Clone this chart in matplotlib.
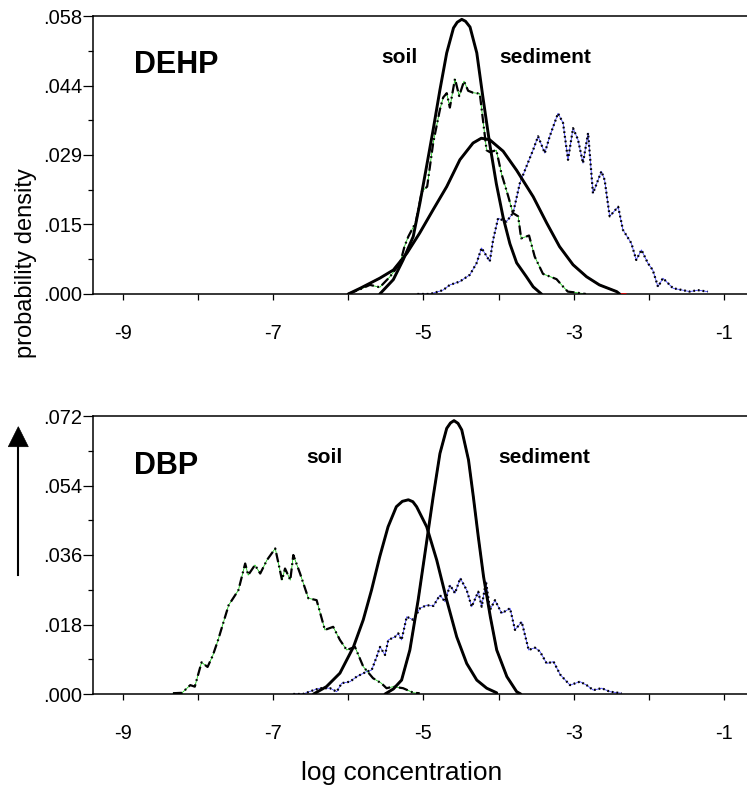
import matplotlib
matplotlib.use("Agg")
import matplotlib.pyplot as plt
from matplotlib.patches import Polygon
from matplotlib.lines import Line2D

plt.rcParams['font.family'] = ['Liberation Sans', 'DejaVu Sans']

# ---------------- data ----------------
# DEHP panel
dehp_soil_fit_x = [-5.58, -5.40, -5.27, -5.135, -5.046, -4.958, -4.87, -4.78, -4.69, -4.60, -4.55, -4.49,
                   -4.44, -4.38, -4.29, -4.21, -4.12, -4.03, -3.94, -3.85, -3.76, -3.63, -3.54, -3.43]
dehp_soil_fit_y = [0.0, 0.0030, 0.0071, 0.0120, 0.0190, 0.0266, 0.0343, 0.0426, 0.0503, 0.0555, 0.0567, 0.0573,
                   0.0569, 0.0557, 0.0503, 0.0412, 0.0315, 0.0230, 0.0160, 0.0105, 0.0065, 0.0036, 0.0015, 0.0]

dehp_sed_fit_x = [-6.0, -5.84, -5.58, -5.40, -5.22, -5.05, -4.87, -4.69, -4.515, -4.34, -4.23, -4.12,
                  -3.94, -3.76, -3.54, -3.36, -3.19, -3.01, -2.83, -2.66, -2.43, -2.39]
dehp_sed_fit_y = [0.0, 0.0012, 0.0033, 0.0050, 0.0085, 0.0127, 0.0176, 0.0224, 0.0280, 0.0315, 0.0325, 0.0322,
                  0.0298, 0.0258, 0.0203, 0.0148, 0.0099, 0.0061, 0.0036, 0.0019, 0.0005, 0.0]
dehp_sed_fit_tail_x = [-2.39, -2.31]
dehp_sed_fit_tail_y = [0.0, 0.0]

dehp_soil_sim_x = [-6.0, -5.84, -5.71, -5.58, -5.445, -5.31, -5.25, -5.20, -5.10, -5.02, -4.95, -4.87,
                   -4.78, -4.737, -4.69, -4.648, -4.58, -4.524, -4.46, -4.405, -4.34, -4.25, -4.16, -4.117,
                   -4.03, -3.96, -3.874, -3.81, -3.74, -3.70, -3.595, -3.52, -3.41, -3.23, -3.14, -3.08,
                   -2.97, -2.84]
dehp_soil_sim_y = [0.0, 0.0010, 0.0019, 0.0014, 0.0036, 0.0064, 0.0100, 0.0120, 0.0150, 0.0214, 0.0224, 0.0315,
                   0.0385, 0.0410, 0.0419, 0.0389, 0.0449, 0.0413, 0.0444, 0.0424, 0.0420, 0.0418, 0.0300, 0.0296,
                   0.0300, 0.0250, 0.0205, 0.0169, 0.0162, 0.0116, 0.0122, 0.0078, 0.0042, 0.0031, 0.0015, 0.0005,
                   0.0003, 0.0]

dehp_sed_sim_x = [-5.08, -4.91, -4.74, -4.648, -4.515, -4.383, -4.294, -4.227, -4.183, -4.117, -4.073,
                  -4.007, -3.895, -3.807, -3.718, -3.63, -3.54, -3.475, -3.386, -3.32, -3.21, -3.143,
                  -3.077, -3.01, -2.944, -2.878, -2.81, -2.745, -2.633, -2.59, -2.523, -2.41, -2.347,
                  -2.235, -2.17, -2.10, -2.014, -1.95, -1.88, -1.815, -1.68, -1.55, -1.46, -1.35, -1.22]
dehp_sed_sim_y = [0.0, 0.0, 0.0008, 0.0019, 0.0026, 0.0040, 0.0064, 0.0096, 0.0085, 0.0068, 0.0113,
                  0.0158, 0.0151, 0.0169, 0.0231, 0.0266, 0.0301, 0.0329, 0.0294, 0.0329, 0.0377, 0.0357,
                  0.0280, 0.0346, 0.0322, 0.0273, 0.0336, 0.0210, 0.0256, 0.0238, 0.0162, 0.0182, 0.0134,
                  0.0106, 0.0071, 0.0092, 0.0064, 0.0050, 0.0015, 0.0033, 0.0012, 0.0008, 0.0005, 0.0008, 0.0005]

# DBP panel
dbp_soil_sim_x = [-8.33, -8.21, -8.10, -8.04, -7.95, -7.87, -7.80, -7.73, -7.59, -7.46, -7.37, -7.33, -7.24,
                  -7.17, -7.08, -6.97, -6.88, -6.84, -6.77, -6.73, -6.64, -6.53, -6.42, -6.31, -6.20,
                  -6.11, -6.02, -5.91, -5.80, -5.67, -5.56, -5.49, -5.40, -5.27, -5.13, -5.05]
dbp_soil_sim_y = [0.0002, 0.0003, 0.0023, 0.0019, 0.0082, 0.0070, 0.0100, 0.0140, 0.0230, 0.0269, 0.0338, 0.0308,
                  0.0334, 0.0312, 0.0347, 0.0377, 0.0295, 0.0325, 0.0295, 0.0360, 0.0312, 0.0248, 0.0243,
                  0.0166, 0.0174, 0.0140, 0.0114, 0.0122, 0.0071, 0.0041, 0.0028, 0.0015, 0.0019, 0.0015,
                  0.0003, 0.0002]

dbp_soil_fit_x = [-6.46, -6.29, -6.11, -5.93, -5.80, -5.69, -5.58, -5.47, -5.36, -5.28, -5.20, -5.14, -5.09,
                  -4.956, -4.823, -4.69, -4.557, -4.424, -4.29, -4.158, -4.025]
dbp_soil_fit_y = [0.0, 0.0019, 0.0054, 0.0122, 0.0192, 0.0269, 0.0356, 0.0433, 0.0485, 0.0499, 0.0503, 0.0498,
                  0.0485, 0.0433, 0.0347, 0.0243, 0.0148, 0.0079, 0.0036, 0.0015, 0.0003]

dbp_sed_fit_x = [-5.51, -5.40, -5.29, -5.18, -5.07, -4.96, -4.87, -4.78, -4.69, -4.64, -4.593, -4.54, -4.49,
                 -4.40, -4.336, -4.27, -4.20, -4.11, -4.025, -3.89, -3.76, -3.706]
dbp_sed_fit_y = [0.0, 0.0013, 0.0036, 0.0114, 0.0243, 0.0390, 0.0511, 0.0623, 0.0688, 0.0702, 0.0708, 0.0701,
                 0.0684, 0.0606, 0.0511, 0.0407, 0.0304, 0.0200, 0.0114, 0.0045, 0.0006, 0.0]

dbp_sed_sim_x = [-6.73, -6.60, -6.46, -6.375, -6.242, -6.153, -6.086, -5.976, -5.887, -5.754, -5.688,
                 -5.62, -5.577, -5.51, -5.467, -5.378, -5.334, -5.29, -5.222, -5.134, -5.045, -4.956,
                 -4.868, -4.78, -4.713, -4.646, -4.58, -4.51, -4.424, -4.358, -4.27, -4.225, -4.168,
                 -4.114, -4.048, -3.959, -3.848, -3.782, -3.693, -3.60, -3.516, -3.45, -3.36, -3.27,
                 -3.18, -3.05, -2.918, -2.83, -2.74, -2.63, -2.52, -2.366]
dbp_sed_sim_y = [0.0, 0.0, 0.0010, 0.0015, 0.0015, 0.0006, 0.0028, 0.0032, 0.0045, 0.0058, 0.0062,
                 0.0097, 0.0122, 0.0101, 0.0140, 0.0148, 0.0157, 0.0140, 0.0200, 0.0192, 0.0222, 0.0230,
                 0.0228, 0.0256, 0.0239, 0.0282, 0.0261, 0.0300, 0.0269, 0.0226, 0.0265, 0.0226, 0.0291,
                 0.0218, 0.0243, 0.0209, 0.0222, 0.0166, 0.0187, 0.0114, 0.0120, 0.0110, 0.0079, 0.0084,
                 0.0050, 0.0023, 0.0032, 0.0023, 0.0010, 0.0015, 0.0006, 0.0002]

x_ticks = [-9, -7, -5, -3, -1]
x_minor = [-8, -6, -4, -2]
dehp_yticks = [0.0, 0.0145, 0.029, 0.0435, 0.058]
dehp_ylabels = ['.000', '.015', '.029', '.044', '.058']
dbp_yticks = [0.0, 0.018, 0.036, 0.054, 0.072]
dbp_ylabels = ['.000', '.018', '.036', '.054', '.072']

# ---------------- figure ----------------
W, H = 747, 785
fig = plt.figure(figsize=(W / 100, H / 100), dpi=100)

def px_axes(left, top, right, bottom):
    return fig.add_axes([left / W, 1 - bottom / H, (right - left) / W, (bottom - top) / H])

ax1 = px_axes(93, 16, 747, 294)
ax2 = px_axes(93, 416, 747, 694)

DASHDOT = (0, (4.2, 1.6, 0.8, 1.6))
DOTTED = (0, (0.8, 1.3))

def draw_sim(ax, x, y, color, ls):
    ax.plot(x, y, color=color, lw=0.6, zorder=2, alpha=0.9)
    ax.plot(x, y, color='black', lw=1.6, ls=ls, zorder=3, dash_capstyle='butt')

def draw_fit(ax, x, y, under=None, tail=None):
    if under is not None:
        ux, uy = list(x), list(y)
        if tail is not None:
            ux += tail[0][1:]
            uy += tail[1][1:]
        ax.plot(ux, uy, color=under, lw=1.2, zorder=4, solid_joinstyle='round')
    ax.plot(x, y, color='black', lw=2.1, zorder=5, solid_joinstyle='round', solid_capstyle='round')

# DEHP
draw_sim(ax1, dehp_soil_sim_x, dehp_soil_sim_y, '#00c000', DASHDOT)
draw_sim(ax1, dehp_sed_sim_x, dehp_sed_sim_y, '#3030ff', DOTTED)
draw_fit(ax1, dehp_sed_fit_x, dehp_sed_fit_y, under='#e00000',
         tail=(dehp_sed_fit_tail_x, dehp_sed_fit_tail_y))
draw_fit(ax1, dehp_soil_fit_x, dehp_soil_fit_y)

# DBP
draw_sim(ax2, dbp_soil_sim_x, dbp_soil_sim_y, '#00c000', DASHDOT)
draw_sim(ax2, dbp_sed_sim_x, dbp_sed_sim_y, '#3030ff', DOTTED)
draw_fit(ax2, dbp_soil_fit_x, dbp_soil_fit_y)
draw_fit(ax2, dbp_sed_fit_x, dbp_sed_fit_y, under='#e00000')

x_left = -5 - (423.4 - 93) / 75.2
x_right = -5 + (747 - 423.4) / 75.2

for ax, yt, yl in [(ax1, dehp_yticks, dehp_ylabels), (ax2, dbp_yticks, dbp_ylabels)]:
    ax.set_xlim(x_left, x_right)
    ax.set_ylim(yt[0], yt[-1])
    ax.set_xticks(x_ticks)
    ax.set_xticklabels([str(v) for v in x_ticks])
    ax.set_xticks(x_minor, minor=True)
    ax.set_yticks(yt)
    ax.set_yticklabels(yl)
    ax.set_yticks([(a + b) / 2 for a, b in zip(yt[:-1], yt[1:])], minor=True)
    ax.spines['right'].set_visible(False)
    for s in ['left', 'top', 'bottom']:
        ax.spines[s].set_linewidth(1.1)
        ax.spines[s].set_color('black')
    ax.tick_params(axis='x', which='major', direction='out', length=4.5, width=0.9,
                   labelsize=14.5, pad=17)
    ax.tick_params(axis='x', which='minor', direction='out', length=4, width=0.9)
    ax.tick_params(axis='y', which='major', direction='out', length=7, width=0.9,
                   labelsize=14.5, pad=0.5)
    ax.tick_params(axis='y', which='minor', direction='out', length=3.5, width=0.9)
    ax.set_facecolor('white')

# panel texts (pixel positions converted to data)
def dx(px):
    return -5 + (px - 423.4) / 75.2

def dy1(py):
    return 0.058 * (294 - py) / 278

def dy2(py):
    return 0.072 * (694 - py) / 278

ax1.text(dx(134), dy1(73), 'DEHP', fontsize=22, fontweight='bold', ha='left', va='baseline')
ax1.text(dx(381.7), dy1(63.3), 'soil', fontsize=15, fontweight='bold', ha='left', va='baseline')
ax1.text(dx(499.3), dy1(63.3), 'sediment', fontsize=15, fontweight='bold', ha='left', va='baseline')

ax2.text(dx(134), dy2(473.5), 'DBP', fontsize=22, fontweight='bold', ha='left', va='baseline')
ax2.text(dx(306.7), dy2(463.3), 'soil', fontsize=15, fontweight='bold', ha='left', va='baseline')
ax2.text(dx(498.3), dy2(463.3), 'sediment', fontsize=15, fontweight='bold', ha='left', va='baseline')

# axis titles
fig.text(26 / W, 1 - 263 / H, 'probability density', rotation=90, ha='center', va='center', fontsize=17)
fig.text(402 / W, 1 - 773 / H, 'log concentration', ha='center', va='center', fontsize=19)

# upward arrow (figure inches)
def fin(px, py):
    return (px / 100, (H - py) / 100)

fig.add_artist(Line2D([fin(18.3, 575)[0], fin(18.3, 445)[0]], [fin(18.3, 575)[1], fin(18.3, 445)[1]],
                      transform=fig.dpi_scale_trans, color='black', lw=1.5))
fig.add_artist(Polygon([fin(8.3, 446.7), fin(28.3, 446.7), fin(18.3, 426.7)], closed=True,
                       transform=fig.dpi_scale_trans, facecolor='black', edgecolor='black', lw=0.5))

fig.savefig('out.png', dpi=100, facecolor='white')
